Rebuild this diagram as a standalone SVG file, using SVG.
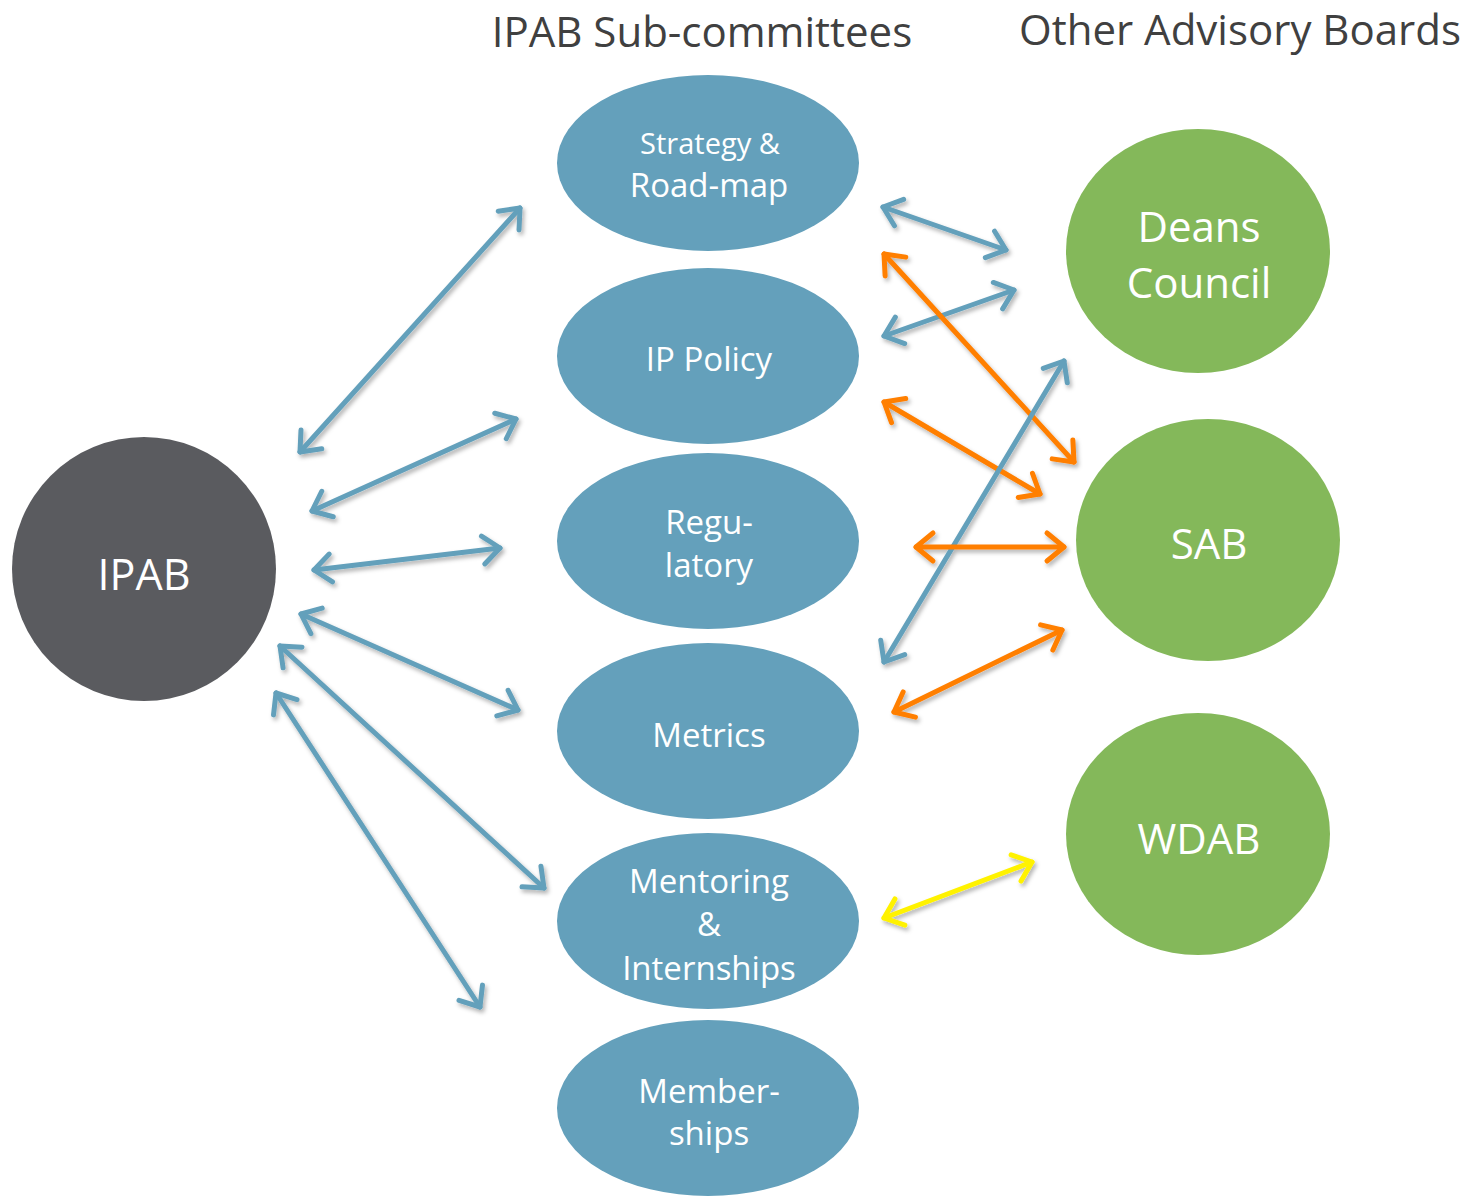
<svg xmlns="http://www.w3.org/2000/svg" width="1462" height="1196" viewBox="0 0 1462 1196">
<style>
.sub{fill:#64A0BB}
.adv{fill:#84B85A}
.t{fill:#fff;font-family:"Open Sans","Noto Sans",sans-serif;text-anchor:middle}
.h{fill:#404040;font-family:"Open Sans","Noto Sans",sans-serif;font-size:42px;text-anchor:middle}
.c{fill:none;stroke-width:5;stroke-linecap:round}
.b{stroke:#64A0BB;marker-start:url(#mb);marker-end:url(#mb)}
.o{stroke:#FF7F00;marker-start:url(#mo);marker-end:url(#mo)}
.y{stroke:#FFF200;marker-start:url(#my);marker-end:url(#my)}
</style>
<defs>
<filter id="sh" x="-20%" y="-20%" width="140%" height="140%">
<feDropShadow dx="2" dy="3" stdDeviation="2" flood-color="#000" flood-opacity="0.3"/>
</filter>
<marker id="mb" markerUnits="userSpaceOnUse" orient="auto-start-reverse" refX="0" refY="0" overflow="visible" markerWidth="1" markerHeight="1">
<path d="M-17,-14 L0,0 L-17,14" fill="none" stroke="#64A0BB" stroke-width="5" stroke-linecap="round" stroke-linejoin="round"/>
</marker>
<marker id="mo" markerUnits="userSpaceOnUse" orient="auto-start-reverse" refX="0" refY="0" overflow="visible" markerWidth="1" markerHeight="1">
<path d="M-17,-14 L0,0 L-17,14" fill="none" stroke="#FF7F00" stroke-width="5" stroke-linecap="round" stroke-linejoin="round"/>
</marker>
<marker id="my" markerUnits="userSpaceOnUse" orient="auto-start-reverse" refX="0" refY="0" overflow="visible" markerWidth="1" markerHeight="1">
<path d="M-17,-14 L0,0 L-17,14" fill="none" stroke="#FFF200" stroke-width="5" stroke-linecap="round" stroke-linejoin="round"/>
</marker>
</defs>
<rect width="1462" height="1196" fill="#fff"/>
<text class="h" x="702" y="47">IPAB Sub-committees</text>
<text class="h" x="1240" y="45">Other Advisory Boards</text>

<g id="ipab"><circle cx="144" cy="569" r="132" fill="#5A5B5F"/><text class="t" x="144" y="590" font-size="43">IPAB</text></g>
<g id="strategy"><ellipse class="sub" cx="708" cy="163" rx="151" ry="88"/><text class="t" x="710" y="154" font-size="29">Strategy &amp;</text><text class="t" x="709" y="197" font-size="33">Road-map</text></g>
<g id="ippolicy"><ellipse class="sub" cx="708" cy="356" rx="151" ry="88"/><text class="t" x="709" y="371" font-size="33">IP Policy</text></g>
<g id="regulatory"><ellipse class="sub" cx="708" cy="541" rx="151" ry="88"/><text class="t" x="709" y="534" font-size="33">Regu-</text><text class="t" x="709" y="577" font-size="33">latory</text></g>
<g id="metrics"><ellipse class="sub" cx="708" cy="731" rx="151" ry="88"/><text class="t" x="709" y="747" font-size="33">Metrics</text></g>
<g id="mentoring"><ellipse class="sub" cx="708" cy="921" rx="151" ry="88"/><text class="t" x="709" y="893" font-size="33">Mentoring</text><text class="t" x="709" y="936" font-size="33">&amp;</text><text class="t" x="709" y="980" font-size="33">Internships</text></g>
<g id="memberships"><ellipse class="sub" cx="708" cy="1108" rx="151" ry="88"/><text class="t" x="709" y="1103" font-size="33">Member-</text><text class="t" x="709" y="1145" font-size="33">ships</text></g>
<g id="deans"><ellipse class="adv" cx="1198" cy="251" rx="132" ry="122"/><text class="t" x="1199" y="242" font-size="42">Deans</text><text class="t" x="1199" y="298" font-size="42">Council</text></g>
<g id="sab"><ellipse class="adv" cx="1208" cy="540" rx="132" ry="121"/><text class="t" x="1209" y="559" font-size="42">SAB</text></g>
<g id="wdab"><ellipse class="adv" cx="1198" cy="834" rx="132" ry="121"/><text class="t" x="1199" y="854" font-size="42">WDAB</text></g>

<g id="connectors" filter="url(#sh)">
<line class="c b" x1="300" y1="452" x2="520" y2="208"/>
<line class="c b" x1="312" y1="511" x2="516" y2="419"/>
<line class="c b" x1="314" y1="570" x2="500" y2="548"/>
<line class="c b" x1="301" y1="614" x2="518" y2="710"/>
<line class="c b" x1="280" y1="646" x2="544" y2="888"/>
<line class="c b" x1="276" y1="693" x2="480" y2="1007"/>
<line class="c b" x1="883" y1="207" x2="1006" y2="250"/>
<line class="c b" x1="884" y1="336" x2="1014" y2="290"/>
<line class="c o" x1="884" y1="254" x2="1074" y2="462"/>
<line class="c o" x1="884" y1="402" x2="1040" y2="494"/>
<line class="c b" x1="884" y1="662" x2="1064" y2="361"/>
<line class="c o" x1="916" y1="547" x2="1064" y2="547"/>
<line class="c o" x1="894" y1="712" x2="1062" y2="630"/>
<line class="c y" x1="884" y1="918" x2="1032" y2="862"/>
</g>
</svg>
